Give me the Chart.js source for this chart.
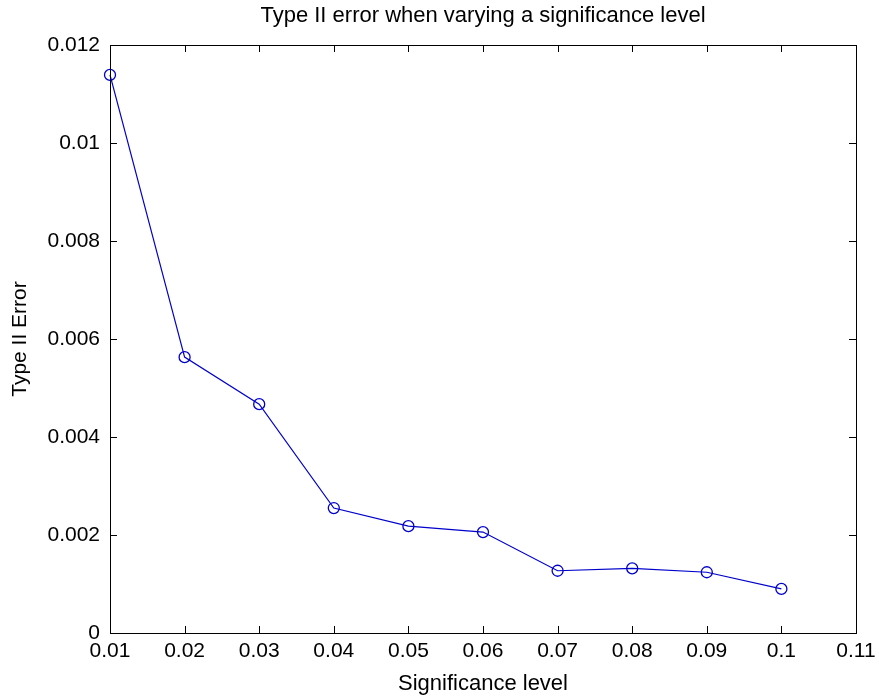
<!DOCTYPE html>
<html><head><meta charset="utf-8">
<script src="https://cdn.jsdelivr.net/npm/chart.js@4"></script>
<style>html,body{margin:0;padding:0;background:#fff}#wrap{width:879px;height:697px}</style>
</head><body><div id="wrap"><canvas id="c" width="879" height="697"></canvas></div>
<script>
const significance = [0.01,0.02,0.03,0.04,0.05,0.06,0.07,0.08,0.09,0.1];
const typeIIError = [0.01139,0.00563,0.00467,0.00255,0.00218,0.00206,0.00127,0.00132,0.00124,0.0009];
const xTickValues = [0.01,0.02,0.03,0.04,0.05,0.06,0.07,0.08,0.09,0.1,0.11];
const xTickLabels = ['0.01','0.02','0.03','0.04','0.05','0.06','0.07','0.08','0.09','0.1','0.11'];
const yTickValues = [0,0.002,0.004,0.006,0.008,0.01,0.012];
const yTickLabels = ['0','0.002','0.004','0.006','0.008','0.01','0.012'];

const FONT = 'Liberation Sans, Arial, sans-serif';
const boxTicks = {
  id:'boxTicks',
  afterDatasetsDraw(chart){
    const {ctx, chartArea:a, scales:{x,y}} = chart;
    const L = 7;
    ctx.save();
    ctx.strokeStyle = '#000'; ctx.lineWidth = 1;
    ctx.strokeRect(Math.round(a.left)+0.5, Math.round(a.top)+0.5, Math.round(a.right-a.left), Math.round(a.bottom-a.top));
    ctx.beginPath();
    xTickValues.forEach(v=>{
      const px = Math.round(x.getPixelForValue(v))+0.5;
      ctx.moveTo(px, a.bottom); ctx.lineTo(px, a.bottom-L);
      ctx.moveTo(px, a.top); ctx.lineTo(px, a.top+L);
    });
    yTickValues.forEach(v=>{
      const py = Math.round(y.getPixelForValue(v))+0.5;
      ctx.moveTo(a.left, py); ctx.lineTo(a.left+L, py);
      ctx.moveTo(a.right, py); ctx.lineTo(a.right-L, py);
    });
    ctx.stroke();
    ctx.restore();
  }
};

new Chart(document.getElementById('c'), {
  type:'line',
  data:{datasets:[{
    data: significance.map((s,i)=>({x:s,y:typeIIError[i]})),
    borderColor:'#0000cc', borderWidth:1.2, clip:false,
    pointRadius:5.5, pointBorderColor:'#0000cc', pointBackgroundColor:'rgba(0,0,0,0)',
    pointBorderWidth:1.3, tension:0, fill:false
  }]},
  plugins:[boxTicks],
  options:{
    responsive:false, animation:false, devicePixelRatio:1,
    layout:{padding:{left:0,right:23,top:0,bottom:0}},
    plugins:{
      legend:{display:false}, tooltip:{enabled:false},
      title:{display:true, fullSize:false, text:'Type II error when varying a significance level',
        color:'#000', font:{family:FONT,size:22,weight:'normal'}, padding:{top:3,bottom:15.6}}
    },
    scales:{
      x:{type:'linear', min:0.01, max:0.11,
        afterBuildTicks: s=>{ s.ticks = xTickValues.map(v=>({value:v})); },
        afterFit: s=>{ s.height = 64; s.paddingLeft = 0; s.paddingRight = 0; },
        grid:{display:false, drawTicks:false}, border:{display:false},
        ticks:{color:'#000', font:{family:FONT,size:21}, padding:6, maxRotation:0, autoSkip:false,
          callback:(v,i)=>xTickLabels[i]},
        title:{display:true, text:'Significance level', color:'#000', font:{family:FONT,size:22}, padding:{top:0,bottom:0}}
      },
      y:{type:'linear', min:0, max:0.012,
        afterBuildTicks: s=>{ s.ticks = yTickValues.map(v=>({value:v})); },
        afterFit: s=>{ s.width = 110; s.paddingTop = 0; s.paddingBottom = 0; },
        grid:{display:false, drawTicks:false}, border:{display:false},
        ticks:{color:'#000', font:{family:FONT,size:21}, padding:10, autoSkip:false,
          callback:(v,i)=>yTickLabels[i]},
        title:{display:true, text:'Type II Error', color:'#000', font:{family:FONT,size:21}, padding:{top:8,bottom:0}}
      }
    }
  }
});
</script></body></html>
